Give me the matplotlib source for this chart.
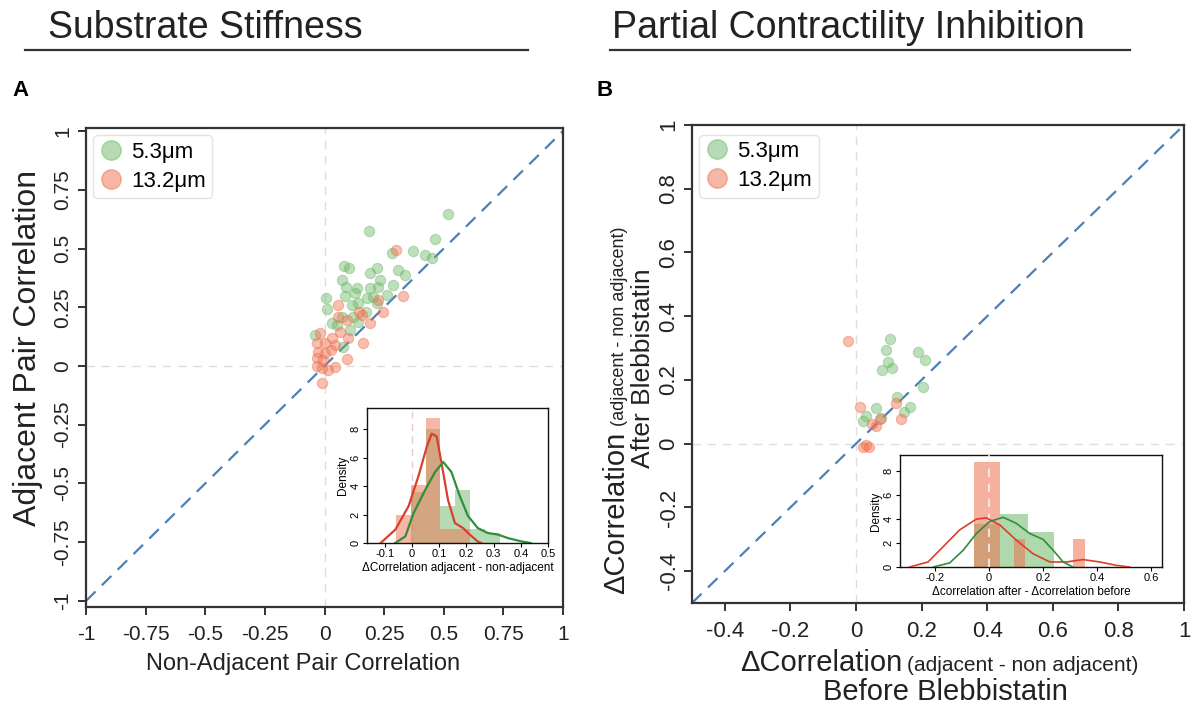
import matplotlib.pyplot as plt
from matplotlib.lines import Line2D

plt.rcParams['font.family'] = ['Liberation Sans', 'DejaVu Sans']

# DATA ------------------------------------------------------------------------

# panel A: non-adjacent (x) vs adjacent (y) pair correlation
a_green_x = [0.516, 0.188, 0.463, 0.282, 0.372, 0.421, 0.449, 0.082, 0.103, 0.222,
             0.19, 0.31, 0.338, 0.072, 0.233, 0.09, 0.138, 0.19, 0.226, 0.286,
             0.086, 0.128, 0.261, 0.006, 0.177, 0.009, 0.114, 0.142, 0.219, 0.174,
             0.03, 0.072, 0.118, 0.142, -0.04, 0.076, 0.107, 0.051, 0.205]
a_green_y = [0.645, 0.573, 0.54, 0.483, 0.491, 0.473, 0.459, 0.426, 0.417, 0.419,
             0.395, 0.409, 0.388, 0.367, 0.367, 0.335, 0.331, 0.331, 0.338, 0.345,
             0.298, 0.31, 0.303, 0.288, 0.288, 0.241, 0.26, 0.267, 0.267, 0.231,
             0.182, 0.21, 0.21, 0.189, 0.132, 0.082, 0.154, 0.174, 0.295]
a_red_x = [0.3, 0.33, 0.058, 0.226, 0.146, 0.156, 0.096, 0.191, 0.247, 0.065,
           -0.019, 0.03, 0.1, -0.033, 0.002, 0.044, -0.026, 0.002, 0.026, -0.033,
           -0.005, 0.163, 0.096, -0.033, 0.016, 0.044, -0.012, -0.012, 0.058]
a_red_y = [0.494, 0.298, 0.26, 0.281, 0.231, 0.218, 0.196, 0.182, 0.231, 0.146,
           0.139, 0.118, 0.118, 0.097, 0.097, 0.089, 0.061, 0.057, 0.069, 0.032,
           0.025, 0.097, 0.028, 0.0, -0.017, -0.006, -0.074, -0.01, 0.21]

# panel A inset: histogram + density of (adjacent - non-adjacent)
a_bin_edges = [-0.06, -0.005, 0.05, 0.105, 0.16, 0.215, 0.27, 0.325]
a_green_hist = [0, 3.6, 8.0, 2.6, 3.7, 1.0, 0.7]
a_red_hist = [2.0, 4.1, 8.8, 1.0, 1.0, 0, 0]
a_red_kde_x = [-0.115, -0.061, -0.012, 0.024, 0.055, 0.073, 0.091, 0.109, 0.133,
               0.158, 0.188, 0.212, 0.242, 0.255]
a_red_kde_y = [0, 0.94, 2.6, 4.7, 6.8, 7.7, 7.5, 5.6, 3.0, 1.4, 1.05, 0.6, 0.1, 0]
a_green_kde_x = [-0.061, -0.024, 0.006, 0.048, 0.085, 0.115, 0.145, 0.176, 0.206,
                 0.242, 0.279, 0.315, 0.352, 0.4, 0.436]
a_green_kde_y = [0, 0.47, 2.1, 3.7, 5.0, 5.7, 5.0, 3.3, 1.9, 1.05, 0.7, 0.6, 0.35,
                 0.12, 0]

# panel B: delta correlation before (x) vs after (y) blebbistatin
b_green_x = [0.104, 0.091, 0.189, 0.21, 0.098, 0.078, 0.111, 0.203, 0.124, 0.061,
             0.165, 0.145, 0.031, 0.021, 0.076]
b_green_y = [0.329, 0.294, 0.289, 0.261, 0.255, 0.231, 0.238, 0.177, 0.146, 0.111,
             0.114, 0.1, 0.086, 0.07, 0.079]
b_red_x = [-0.025, 0.012, 0.122, 0.137, 0.049, 0.074, 0.061, 0.02, 0.04, 0.03]
b_red_y = [0.322, 0.116, 0.127, 0.077, 0.061, 0.077, 0.054, -0.01, -0.012, -0.005]

# panel B inset: bars as (left edge, width, height)
b_green_left = [-0.055, 0.039, 0.144]
b_green_width = [0.094, 0.105, 0.096]
b_green_hist = [3.6, 4.4, 2.9]
b_red_left = [-0.055, 0.093, 0.31]
b_red_width = [0.094, 0.041, 0.046]
b_red_hist = [8.8, 2.3, 2.3]
b_red_kde_x = [-0.294, -0.226, -0.17, -0.109, -0.047, -0.01, 0.04, 0.1, 0.163,
               0.225, 0.286, 0.348, 0.41, 0.47, 0.52]
b_red_kde_y = [0, 0.42, 1.7, 3.1, 4.0, 4.1, 3.5, 2.25, 1.1, 0.42, 0.42, 0.62, 0.42,
               0.14, 0]
b_green_kde_x = [-0.207, -0.146, -0.096, -0.047, 0.002, 0.052, 0.1, 0.15, 0.2,
                 0.237, 0.274, 0.31]
b_green_kde_y = [0, 0.34, 1.4, 2.8, 3.8, 4.15, 3.65, 2.8, 2.3, 1.4, 0.42, 0]

labels = ['5.3\u03bcm', '13.2\u03bcm']

# STYLE -----------------------------------------------------------------------
green = '#6fb86a'
red = '#f0704f'
green_line = '#2f8f3a'
red_line = '#d8402c'
diag = '#4d7fb8'
spine_col = '#333333'
txt = '#222222'

W, H = 1192, 708
fig = plt.figure(figsize=(W / 100, H / 100), dpi=100)

def box(l, t, r, b):
    return [l / W, 1 - b / H, (r - l) / W, (b - t) / H]

def style_main(ax, size):
    for s in ax.spines.values():
        s.set_color(spine_col)
        s.set_linewidth(1.6)
    ax.tick_params(direction='out', length=6, width=1.4, color=spine_col,
                   labelsize=size, labelcolor=txt)
    ax.tick_params(axis='x', pad=7)
    ax.tick_params(axis='y', pad=4)
    for lab in ax.get_yticklabels():
        lab.set_rotation(90)
        lab.set_va('center')
    ax.axhline(0, color='#dddddd', ls=(0, (6, 5)), lw=1, zorder=0)
    ax.axvline(0, color='#dddddd', ls=(0, (6, 5)), lw=1, zorder=0)

def add_legend(ax, anchor):
    handles = [Line2D([], [], ls='', marker='o', ms=14, color=green, alpha=0.5),
               Line2D([], [], ls='', marker='o', ms=14, color=red, alpha=0.5)]
    leg = ax.legend(handles, labels, loc='upper left', bbox_to_anchor=anchor,
                    fontsize=16, frameon=True, handletextpad=0.4,
                    borderpad=0.3, labelspacing=0.35, handlelength=1.0,
                    borderaxespad=0)
    leg.get_frame().set_edgecolor('#dddddd')
    leg.get_frame().set_linewidth(1)

def style_inset(ax):
    for s in ax.spines.values():
        s.set_color('#111111')
        s.set_linewidth(1)
    ax.tick_params(direction='out', length=3, width=0.8, labelsize=8, pad=1.5)
    for lab in ax.get_yticklabels():
        lab.set_rotation(90)
        lab.set_va('center')
    ax.set_ylabel('Density', fontsize=8.5, labelpad=1)

# titles with underlines
fig.text(48 / W, 1 - 28 / H, 'Substrate Stiffness', fontsize=27, va='center',
         color=txt)
fig.text(612 / W, 1 - 28 / H, 'Partial Contractility Inhibition', fontsize=27,
         va='center', color=txt)
fig.add_artist(Line2D([25 / W, 528 / W], [1 - 50 / H] * 2, color='#333333', lw=1.6))
fig.add_artist(Line2D([610 / W, 1130 / W], [1 - 50 / H] * 2, color='#333333', lw=1.6))
fig.text(12 / W, 1 - 90 / H, 'A', fontsize=16, fontweight='bold', va='center')
fig.text(596 / W, 1 - 90 / H, 'B', fontsize=16, fontweight='bold', va='center')

# PANEL A ---------------------------------------------------------------------
axA = fig.add_axes(box(86, 128, 563, 607))
axA.plot([-1, 1], [-1, 1], color=diag, ls=(0, (6, 4)), lw=1.6, zorder=1)
axA.scatter(a_green_x, a_green_y, s=55, color=green, alpha=0.45, lw=0.8, zorder=2)
axA.scatter(a_red_x, a_red_y, s=55, color=red, alpha=0.45, lw=0.8, zorder=3)
axA.set_xlim(-1, 1)
axA.set_ylim(-1.026, 1.013)
ticksA = [-1, -0.75, -0.5, -0.25, 0, 0.25, 0.5, 0.75, 1]
tlabA = ['-1', '-0.75', '-0.5', '-0.25', '0', '0.25', '0.5', '0.75', '1']
axA.set_xticks(ticksA, tlabA)
axA.set_yticks(ticksA, tlabA)
style_main(axA, 15)
axA.set_xlabel('Non-Adjacent Pair Correlation', fontsize=17, color=txt,
               va='center')
axA.xaxis.set_label_coords((303 - 86) / 477, -(664 - 607) / 479)
axA.set_ylabel('Adjacent Pair Correlation', fontsize=23, color=txt,
               va='center')
axA.yaxis.set_label_coords(-(58 / 477), (607 - 348) / 479)
add_legend(axA, (0.015, 0.985))

insA = fig.add_axes(box(367, 408, 548, 543))
insA.axvline(0, color='#e6cccc', ls=(0, (5, 4)), lw=1, zorder=0)
for i in range(len(a_green_hist)):
    insA.bar(a_bin_edges[i], a_green_hist[i], a_bin_edges[i + 1] - a_bin_edges[i],
             align='edge', color=green, alpha=0.5, lw=0)
    insA.bar(a_bin_edges[i], a_red_hist[i], a_bin_edges[i + 1] - a_bin_edges[i],
             align='edge', color=red, alpha=0.5, lw=0)
insA.plot(a_red_kde_x, a_red_kde_y, color=red_line, lw=1.6)
insA.plot(a_green_kde_x, a_green_kde_y, color=green_line, lw=1.6)
insA.set_xlim(-0.165, 0.5)
insA.set_ylim(0, 9.5)
insA.set_xticks([-0.1, 0, 0.1, 0.2, 0.3, 0.4, 0.5], ['-0.1', '0', '0.1', '0.2', '0.3', '0.4', '0.5'])
insA.set_yticks([0, 2, 4, 6, 8])
style_inset(insA)
insA.set_xlabel('\u0394Correlation adjacent - non-adjacent', fontsize=8.5, labelpad=2)

# PANEL B ---------------------------------------------------------------------
axB = fig.add_axes(box(692, 125, 1184, 603))
axB.plot([-0.5, 1], [-0.5, 1], color=diag, ls=(0, (6, 4)), lw=1.6, zorder=1)
axB.scatter(b_green_x, b_green_y, s=55, color=green, alpha=0.45, lw=0.8, zorder=2)
axB.scatter(b_red_x, b_red_y, s=55, color=red, alpha=0.45, lw=0.8, zorder=3)
axB.set_xlim(-0.5, 1.0)
axB.set_ylim(-0.5, 1.0)
ticksB = [-0.4, -0.2, 0, 0.2, 0.4, 0.6, 0.8, 1]
tlabB = ['-0.4', '-0.2', '0', '0.2', '0.4', '0.6', '0.8', '1']
axB.set_xticks(ticksB, tlabB)
axB.set_yticks(ticksB, tlabB)
style_main(axB, 16)
axB.tick_params(axis='y', pad=3)
add_legend(axB, (0.015, 0.98))

# composite axis labels for B (large + small text)
fig.text(902 / W, 1 - 671 / H, '\u0394Correlation', fontsize=21, ha='right',
         va='baseline', color=txt)
fig.text(907 / W, 1 - 671 / H, '(adjacent - non adjacent)', fontsize=15,
         ha='left', va='baseline', color=txt)
fig.text(945 / W, 1 - 692 / H, 'Before Blebbistatin', fontsize=21, ha='center',
         va='center', color=txt)
fig.text(624 / W, 1 - 432 / H, '\u0394Correlation', fontsize=21, rotation=90,
         ha='right', va='baseline', rotation_mode='anchor', color=txt)
fig.text(624 / W, 1 - 426 / H, '(adjacent - non adjacent)', fontsize=13,
         rotation=90, ha='left', va='baseline', rotation_mode='anchor',
         color=txt)
fig.text(643 / W, 1 - 368 / H, 'After Blebbistatin', fontsize=19, rotation=90,
         ha='center', va='center', color=txt)

insB = fig.add_axes(box(900, 455, 1162, 567))
insB.bar(b_green_left, b_green_hist, b_green_width, align='edge', color=green,
         alpha=0.55, lw=0)
insB.bar(b_red_left, b_red_hist, b_red_width, align='edge', color=red,
         alpha=0.55, lw=0)
insB.axvline(0, color='#f4f4f4', ls=(0, (5, 4)), lw=1.2, zorder=5)
insB.plot(b_red_kde_x, b_red_kde_y, color=red_line, lw=1.2, zorder=6)
insB.plot(b_green_kde_x, b_green_kde_y, color=green_line, lw=1.2, zorder=6)
insB.set_xlim(-0.33, 0.64)
insB.set_ylim(0, 9.35)
insB.set_xticks([-0.2, 0, 0.2, 0.4, 0.6], ['-0.2', '0', '0.2', '0.4', '0.6'])
insB.set_yticks([0, 2, 4, 6, 8])
style_inset(insB)
insB.set_xlabel('\u0394correlation after - \u0394correlation before', fontsize=8.5,
                labelpad=2)

fig.savefig('out.png', dpi=100)
